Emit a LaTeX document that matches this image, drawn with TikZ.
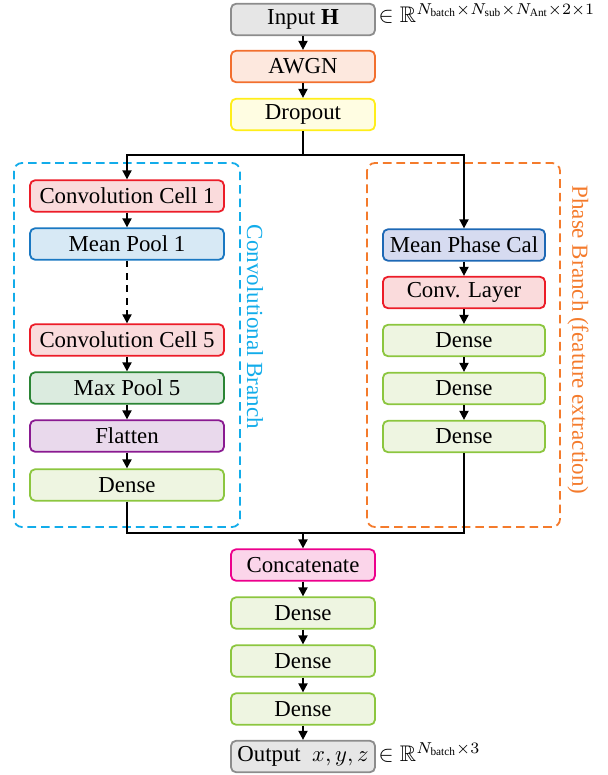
\documentclass[tikz,border=0pt]{standalone}
\usepackage{amsmath,amssymb}
\usepackage{fontspec}
\setmainfont{Liberation Serif}
\usetikzlibrary{arrows.meta,calc}
\definecolor{grayD}{HTML}{8C8C8C}\definecolor{grayF}{HTML}{E6E6E6}
\definecolor{awgnD}{HTML}{F26F2E}\definecolor{awgnF}{HTML}{FDE8DE}
\definecolor{dropD}{HTML}{FFEE1A}\definecolor{dropF}{HTML}{FFFDE2}
\definecolor{convD}{HTML}{EC1C28}\definecolor{convF}{HTML}{FADBDC}
\definecolor{mpD}{HTML}{1A78C2}\definecolor{mpF}{HTML}{D7E9F5}
\definecolor{maxD}{HTML}{2B8535}\definecolor{maxF}{HTML}{DBEBDF}
\definecolor{flatD}{HTML}{8A1A91}\definecolor{flatF}{HTML}{E9D9EC}
\definecolor{denD}{HTML}{8CC63F}\definecolor{denF}{HTML}{EEF5E1}
\definecolor{mpcD}{HTML}{1D68B5}\definecolor{mpcF}{HTML}{D6DBF0}
\definecolor{catD}{HTML}{EC008C}\definecolor{catF}{HTML}{FBD5EA}
\definecolor{cyanB}{HTML}{12ACEA}
\definecolor{orangeB}{HTML}{F47B2C}
\tikzset{
  blk/.style={rounded corners=2.2pt, line width=0.8pt, inner sep=0pt, minimum height=13.9pt, font=\fontsize{10.1}{12}\selectfont},
  cbox/.style={blk, minimum width=63.7pt},
  lbox/.style={blk, minimum width=85.8pt},
  rbox/.style={blk, minimum width=71.7pt},
  arr/.style={line width=0.8pt, -{Triangle[length=4pt,width=4pt]}},
  ln/.style={line width=0.8pt},
  grp/.style={rounded corners=3.5pt, line width=0.8pt, dash pattern=on 3.8pt off 2.2pt},
  lab/.style={font=\fontsize{10.2}{12}\selectfont, rotate=-90, inner sep=0pt}
}
\begin{document}
\begin{tikzpicture}[x=0.4425pt,y=-0.4425pt]
\useasboundingbox (0,0) rectangle (607,775);
% group boxes
\draw[grp, cyanB] (14,163) rectangle (240,527);
\draw[grp, orangeB] (367,163) rectangle (560,527);
\node[lab, text=cyanB] (convlab) at (255,327) {Convolutional Branch};
\node[lab, text=orangeB] (phaselab) at (578,340) {Phase Branch (feature extraction)};
% center column
\node[cbox, draw=grayD, fill=grayF] (inp) at (303,19.5) {Input $\mathbf{H}$};
\node[cbox, draw=awgnD, fill=awgnF] (awgn) at (303,66.5) {AWGN};
\node[cbox, draw=dropD, fill=dropF] (drop) at (303,114.5) {Dropout};
% left branch
\node[lbox, draw=convD, fill=convF] (cc1) at (127,196) {Convolution Cell 1};
\node[lbox, draw=mpD, fill=mpF] (mp1) at (127,244) {Mean Pool 1};
\node[lbox, draw=convD, fill=convF] (cc5) at (127,340) {Convolution Cell 5};
\node[lbox, draw=maxD, fill=maxF] (maxp) at (127,388) {Max Pool 5};
\node[lbox, draw=flatD, fill=flatF] (flat) at (127,436) {Flatten};
\node[lbox, draw=denD, fill=denF] (dl) at (127,485) {Dense};
% right branch
\node[rbox, draw=mpcD, fill=mpcF] (mpc) at (464,245) {Mean Phase Cal};
\node[rbox, draw=convD, fill=convF] (cl) at (464,292.5) {Conv. Layer};
\node[rbox, draw=denD, fill=denF] (d1) at (464,340.5) {Dense};
\node[rbox, draw=denD, fill=denF] (d2) at (464,388.5) {Dense};
\node[rbox, draw=denD, fill=denF] (d3) at (464,436.5) {Dense};
% bottom column
\node[cbox, draw=catD, fill=catF] (cat) at (303,565) {Concatenate};
\node[cbox, draw=denD, fill=denF] (e1) at (303,613) {Dense};
\node[cbox, draw=denD, fill=denF] (e2) at (303,661) {Dense};
\node[cbox, draw=denD, fill=denF] (e3) at (303,709) {Dense};
\node[cbox, draw=grayD, fill=grayF] (out) at (303,756.5) {Output\ \ $x, y, z$};
% dimension labels
\node[anchor=base west, inner sep=1pt, font=\fontsize{10}{12}\selectfont] (inlab) at ([yshift=0.9pt]inp.base east) {$\in \mathbb{R}^{N_{\text{batch}}\times N_{\text{sub}}\times N_{\text{Ant}}\times 2\times 1}$};
\node[anchor=base west, inner sep=1pt, font=\fontsize{10}{12}\selectfont] (outlab) at (out.base east) {$\in \mathbb{R}^{N_{\text{batch}}\times 3}$};
% coordinates
\coordinate (split) at (303,155);
\coordinate (merge) at (303,533);
% connectors
\draw[arr] (inp) -- (awgn);
\draw[arr] (awgn) -- (drop);
\draw[ln] (drop.south) -- (split);
\draw[arr] (split) -| (cc1.north);
\draw[arr] (split) -| (mpc.north);
\draw[arr] (cc1) -- (mp1);
\draw[arr, dash pattern=on 3pt off 2.5pt] (mp1) -- (cc5);
\draw[arr] (cc5) -- (maxp);
\draw[arr] (maxp) -- (flat);
\draw[arr] (flat) -- (dl);
\draw[arr] (mpc) -- (cl);
\draw[arr] (cl) -- (d1);
\draw[arr] (d1) -- (d2);
\draw[arr] (d2) -- (d3);
\draw[ln] (dl.south) |- (merge);
\draw[ln] (d3.south) |- (merge);
\draw[arr] (merge) -- (cat);
\draw[arr] (cat) -- (e1);
\draw[arr] (e1) -- (e2);
\draw[arr] (e2) -- (e3);
\draw[arr] (e3) -- (out);
\end{tikzpicture}
\end{document}
